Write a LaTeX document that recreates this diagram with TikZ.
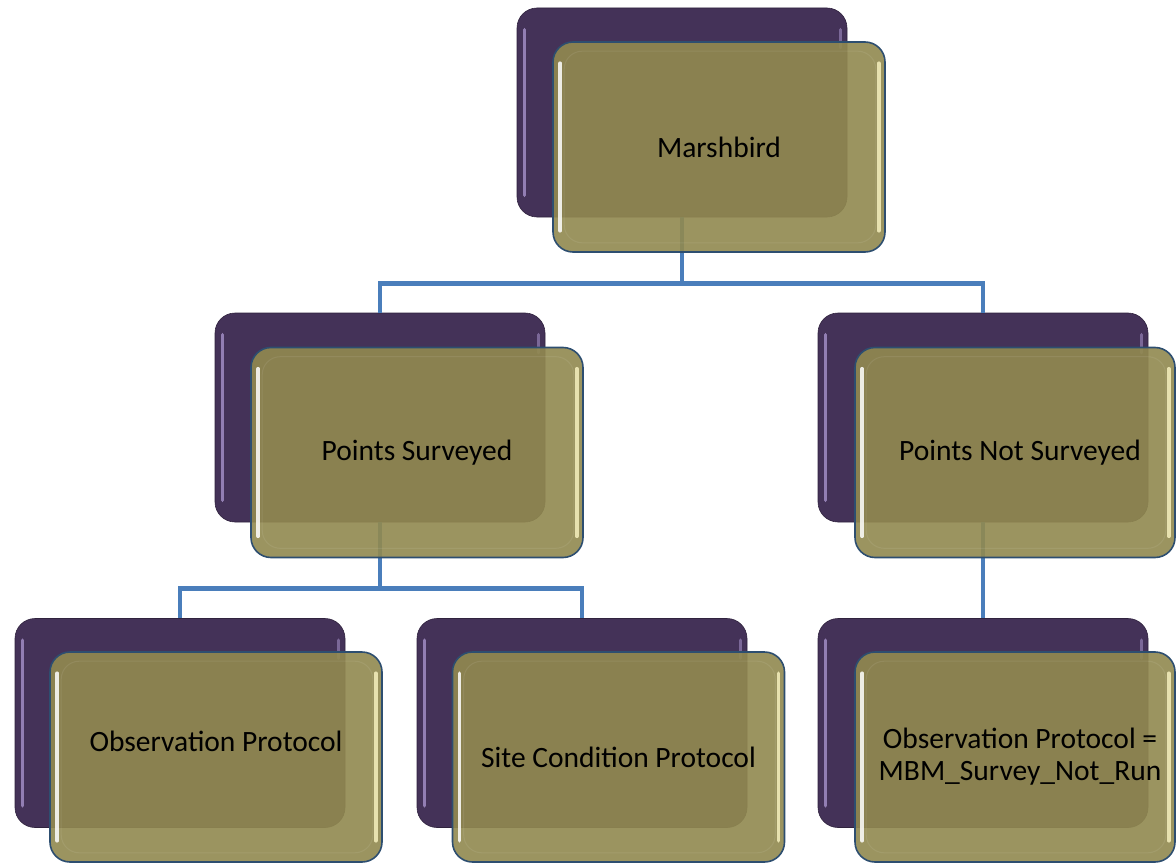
\documentclass[tikz,border=0pt]{standalone}
\usepackage{fontspec}
\setmainfont{Carlito}
\usetikzlibrary{calc}
\definecolor{purp}{RGB}{68,50,88}
\definecolor{purphi}{RGB}{160,140,195}
\definecolor{oliv}{RGB}{145,137,80}
\definecolor{olivhi}{RGB}{245,240,190}
\definecolor{conn}{RGB}{74,126,187}
\definecolor{edgeblue}{RGB}{45,78,112}
\tikzset{
  backbox/.style={draw=purp!70!black, line width=0.6pt, fill=purp, rounded corners=20pt,
    minimum width=330pt, minimum height=209pt, inner sep=0pt},
  frontbox/.style={draw=edgeblue, line width=1.6pt, fill=oliv, fill opacity=0.91, text opacity=1,
    rounded corners=20pt, minimum width=332pt, minimum height=210pt, inner sep=0pt,
    align=center, font=\fontsize{29.5}{32}\selectfont},
  narrow/.style={minimum width=320pt},
  link/.style={draw=conn, line width=4.8pt},
  hiL/.style={line width=3.5pt, line cap=round, draw=#1, opacity=0.85},
}
\newcommand{\backhl}[1]{%
  \draw[hiL=purphi] ($(#1.north west)+(8,22)$) -- ($(#1.south west)+(8,-22)$);
  \draw[hiL=purphi, opacity=0.6] ($(#1.north east)+(-7,22)$) -- ($(#1.north east)+(-7,40)$);
}
\newcommand{\fronthl}[1]{%
  \draw[hiL=white] ($(#1.north west)+(8,22)$) -- ($(#1.south west)+(8,-22)$);
  \draw[hiL=olivhi] ($(#1.north east)+(-7,22)$) -- ($(#1.south east)+(-7,-22)$);
  \draw[draw=white, opacity=0.08, line width=1pt, rounded corners=18pt]
     ($(#1.north west)+(12,10)$) rectangle ($(#1.south east)+(-10,-10)$);
}
\begin{document}
\begin{tikzpicture}[x=1pt,y=-1pt]
\useasboundingbox (0,0) rectangle (1176,864);
% back boxes
\node[backbox] (b0) at (682,112.5) {};
\node[backbox] (b1) at (380,417.5) {};
\node[backbox] (b2) at (983,417.5) {};
\node[backbox] (b3) at (180,723) {};
\node[backbox] (b4) at (582,723) {};
\node[backbox] (b5) at (983,723) {};
\foreach \n in {b0,b1,b2,b3,b4,b5}{\backhl{\n}}
% connectors
\coordinate (j0) at ($(b0.south)+(0,66)$);
\coordinate (j1) at ($(b1.south)+(0,66)$);
\draw[link] (b0.south) -- (j0);
\draw[link] (b1.north) |- (j0) -| (b2.north);
\draw[link] (b1.south) -- (j1);
\draw[link] (b3.north) |- (j1) -| (b4.north);
\draw[link] (b2.south) -- (b5.north);
% front boxes
\node[frontbox] (f0) at (719,147) {Marshbird};
\node[frontbox] (f1) at (417,452.5) {Points Surveyed};
\node[frontbox,narrow] (f2) at (1015,452.5) {\hspace*{10pt}Points Not Surveyed};
\node[frontbox] (f3) at (216,757) {Observation Protocol\\[0pt]~};
\node[frontbox] (f4) at (618.5,757) {Site Condition Protocol};
\node[frontbox,narrow] (f5) at (1015,757) {\hspace*{10pt}Observation Protocol =\\\hspace*{10pt}MBM\_Survey\_Not\_Run};
\foreach \n in {f0,f1,f2,f3,f4,f5}{\fronthl{\n}}
\end{tikzpicture}
\end{document}
